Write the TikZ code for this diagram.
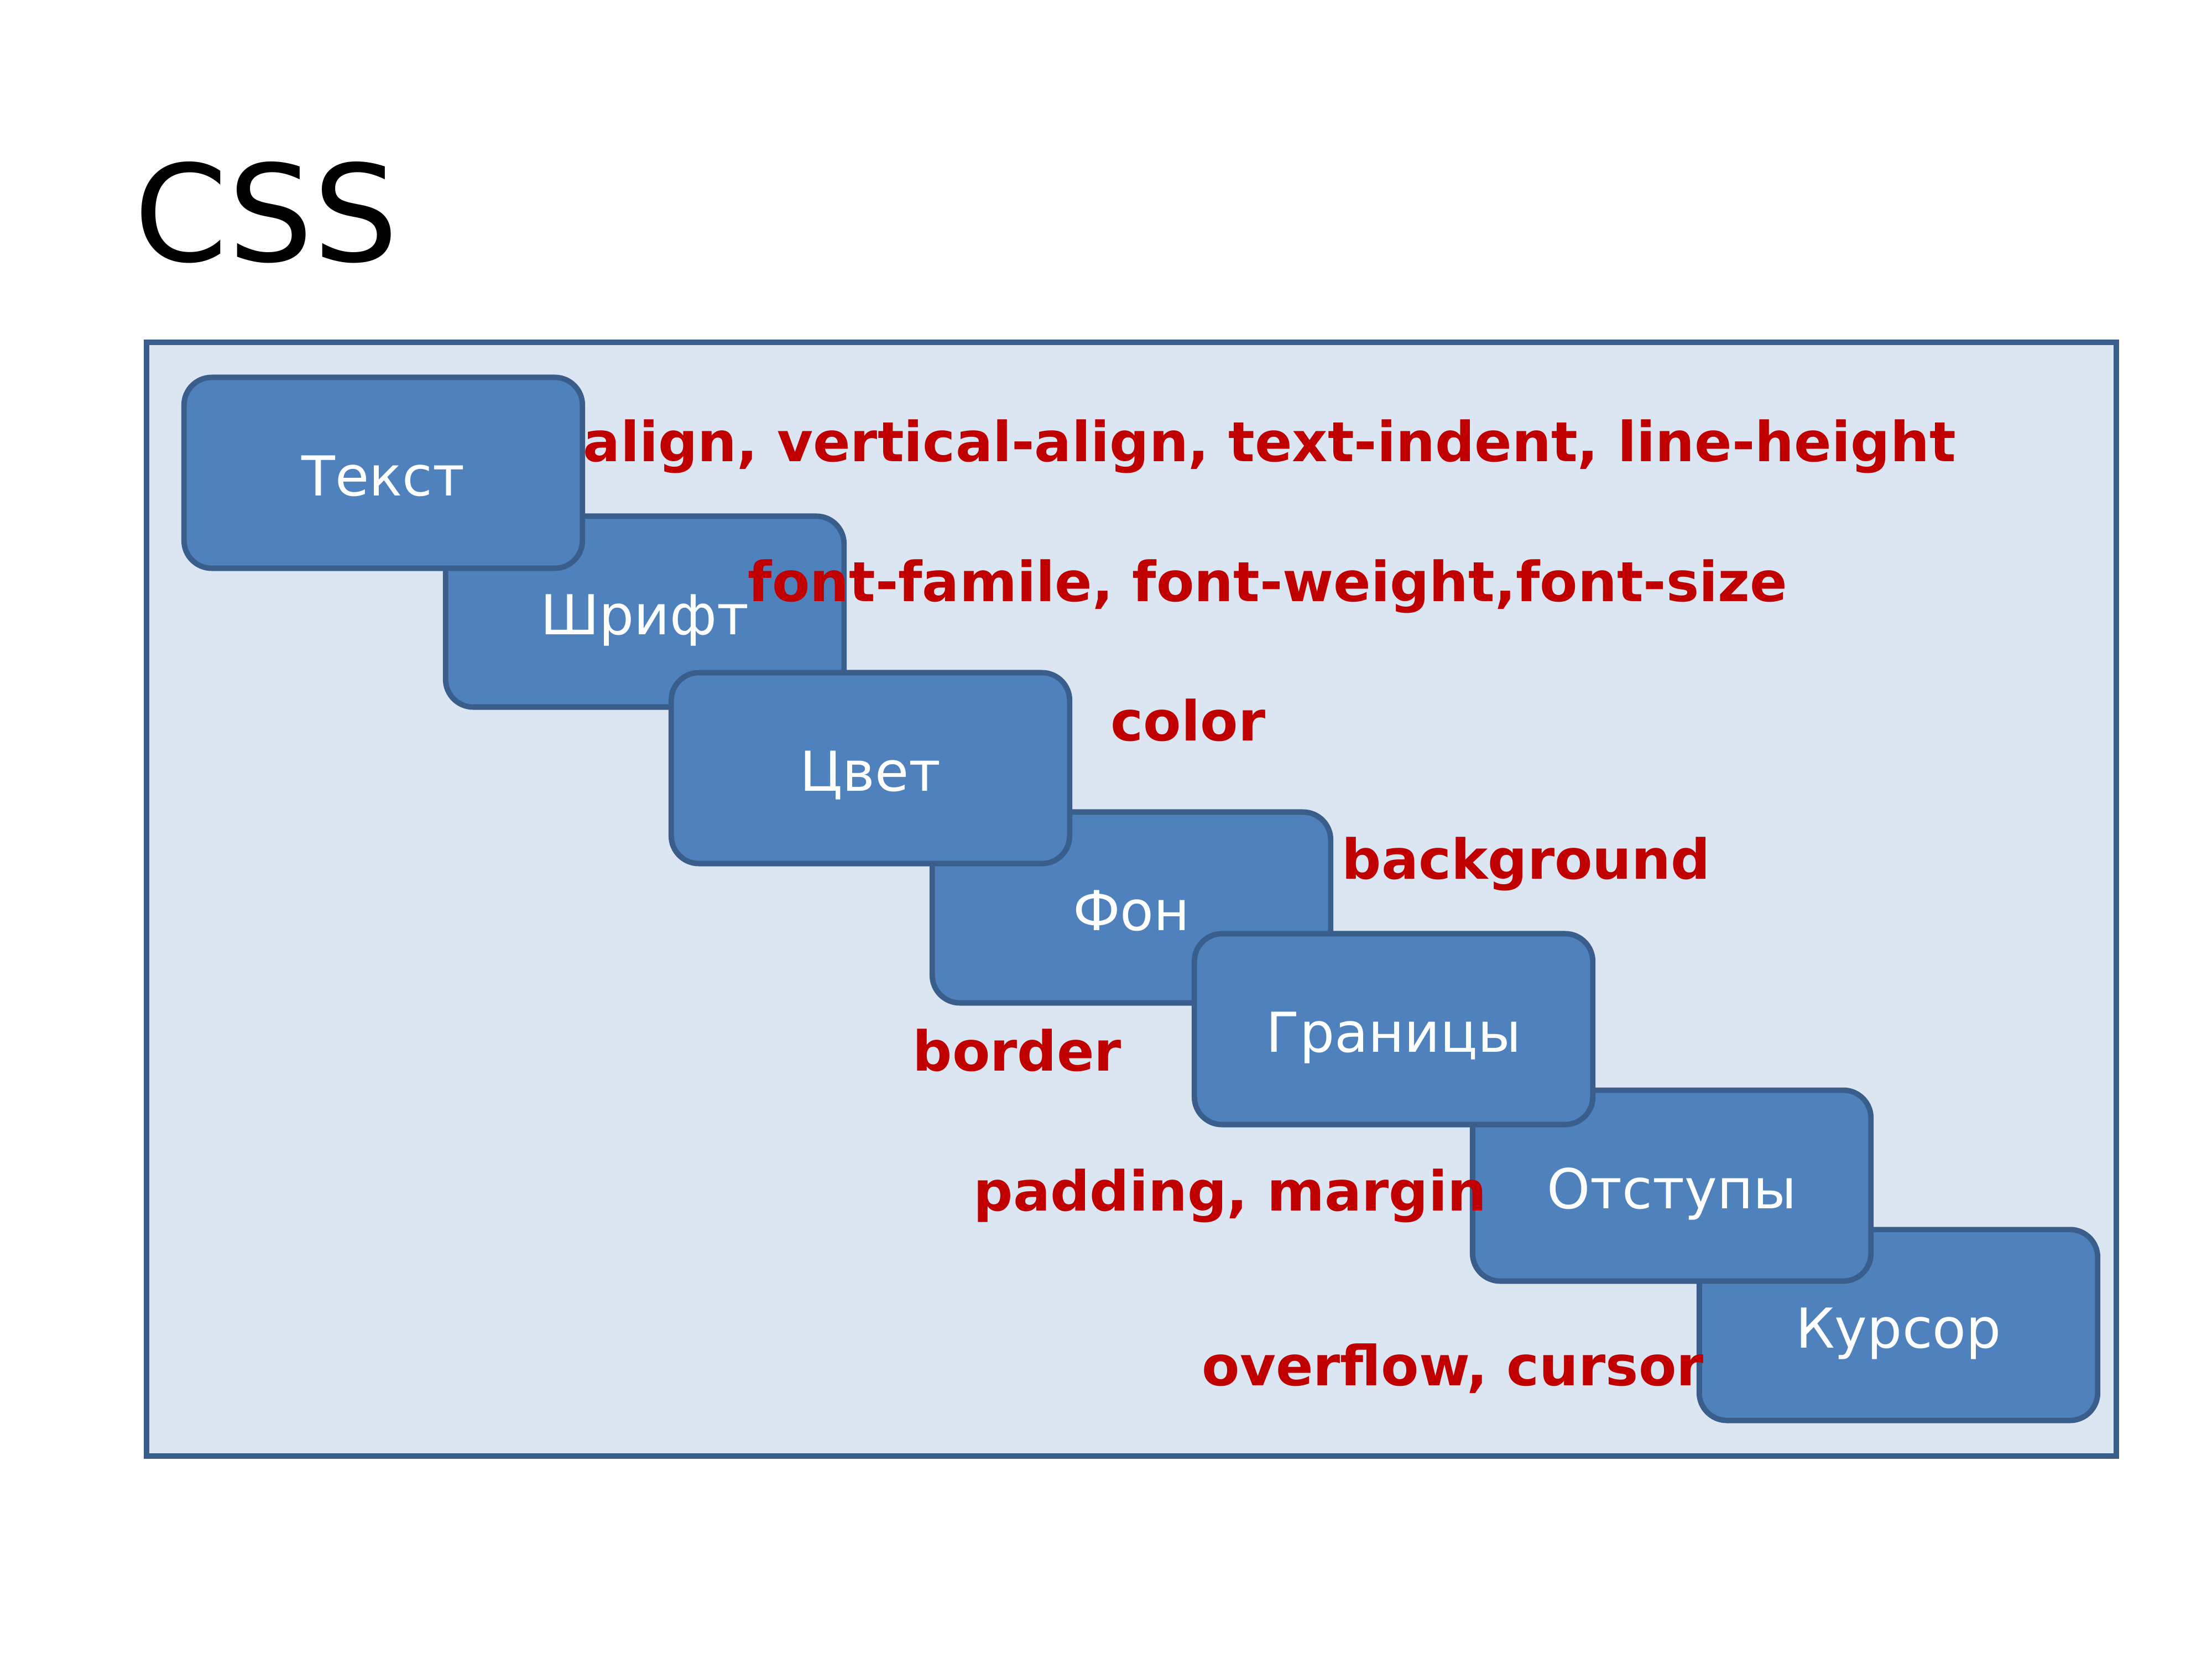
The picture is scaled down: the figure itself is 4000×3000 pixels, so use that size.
\documentclass[tikz,border=0pt]{standalone}
\usepackage{fontspec}
\setmainfont{DejaVu Sans}
\usepackage{tikz}
\usetikzlibrary{positioning}
\definecolor{boxblue}{HTML}{4F81BD}
\definecolor{boxedge}{HTML}{3A5E8C}
\definecolor{panel}{HTML}{DCE6F2}
\definecolor{propred}{HTML}{C00000}

\begin{document}
\begin{tikzpicture}[x=0.01cm,y=-0.01cm,
    topic/.style={draw=boxedge,fill=boxblue,line width=2.8pt,rounded corners=0.5cm,
      minimum width=7.2cm,minimum height=3.45cm,text=white,
      text height=23.5pt,text depth=0pt,
      font=\fontsize{28.3}{34}\selectfont},
    prop/.style={anchor=base west,inner sep=0pt,text=propred,
      font=\fontsize{28.35}{34}\selectfont\bfseries}]

      \useasboundingbox (0,0) rectangle (4000,3000);

      \node[anchor=base west,inner sep=0pt,font=\fontsize{69}{83}\selectfont] (title) at (242,472) {CSS};
      \draw[draw=boxedge,fill=panel,line width=2.6pt] (265,619) rectangle (3827,2633);

      % the order matters: some boxes lie over others
      \node[topic] (font)    at (1166,1106) {Шрифт};
      \node[topic] (bg)      at (2046,1641) {Фон};
      \node[topic] (cursor)  at (3433,2396) {Курсор};
      \node[topic] (spacing) at (3023,2144) {Отступы};
      \node[topic] (borders) at (2520,1861) {Границы};
      \node[topic] (colour)  at (1574,1389) {Цвет};
      \node[topic] (text)    at (693,855)   {Текст};

      \node[prop] (p_text)    at (1054,834)  {align, vertical-align, text-indent, line-height};
      \node[prop] (p_font)    at (1352,1087) {font-famile, font-weight,font-size};
      \node[prop] (p_colour)  at (2008,1339) {color};
      \node[prop] (p_bg)      at (2426,1589) {background};
      \node[prop] (p_borders) at (1650,1936) {border};
      \node[prop] (p_spacing) at (1760,2189) {padding, margin};
      \node[prop] (p_cursor)  at (2173,2505) {overflow, cursor};
    \end{tikzpicture}
\end{document}
